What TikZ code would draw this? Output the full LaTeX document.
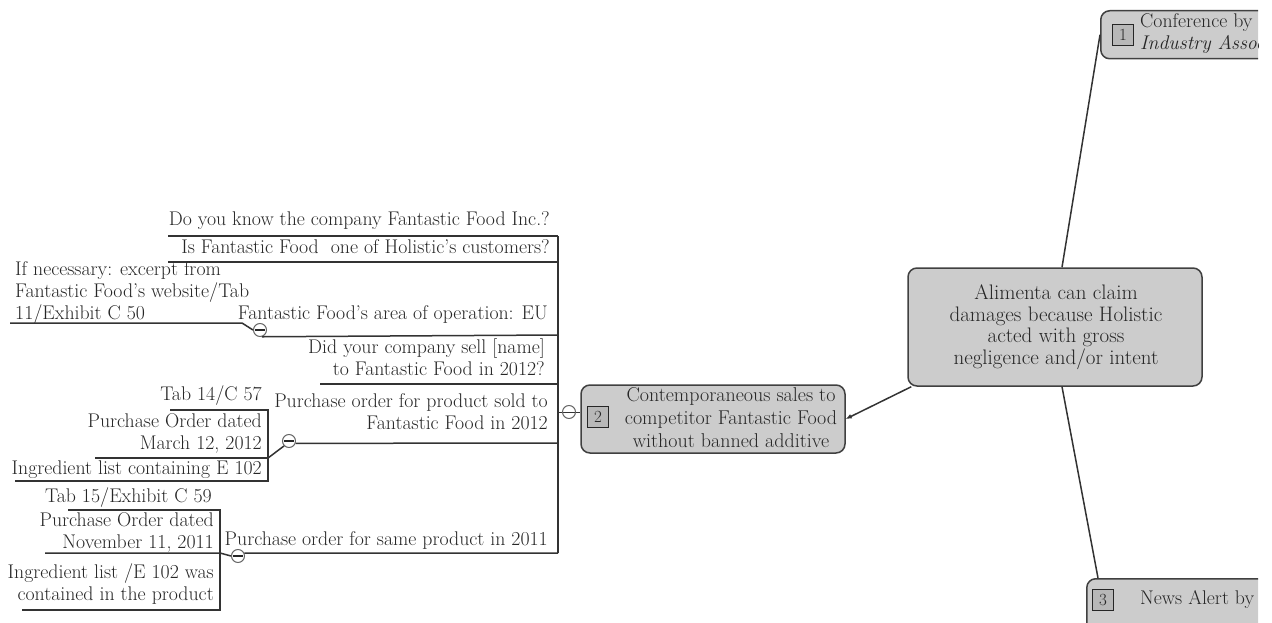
\documentclass[tikz,border=0pt]{standalone}
\usetikzlibrary{arrows.meta}
\begin{document}
\begin{tikzpicture}[x=1pt,y=-1pt,
  font=\fontsize{19.8}{22}\selectfont,
  line/.style={draw=black!80, line width=1.5pt},
  lbl/.style={inner sep=0pt, text=black!85, align=right},
  topic/.style={draw=black!75, line width=1.5pt, fill=black!20, rounded corners=9pt, inner sep=0pt},
  numbox/.style={draw=black!85, line width=1.5pt, fill=black!28, minimum size=21pt, inner sep=0pt,
    text=black!85, font=\fontsize{17}{17}\selectfont},
  tog/.style={circle, draw=black!60, line width=1pt, minimum size=13pt, inner sep=0pt},
  togminus/.style={tog, fill=white, path picture={\draw[line width=2.8pt,black!85]
    ([xshift=1.5pt]path picture bounding box.west) -- ([xshift=-1.5pt]path picture bounding box.east);}}
]
\useasboundingbox (0,0) rectangle (1272,623);
\clip (0,0) rectangle (1258,623);

% ---- main claim and its three supporting topics ----
\node[topic, minimum width=294pt, minimum height=118pt] (c) at (1055,327) {};
\node[lbl, align=center, font=\fontsize{21}{21.5}\selectfont] (ct) at (1056,327)
  {Alimenta can claim\\damages because Holistic\\acted with gross\\negligence and/or intent};

\node[topic, minimum width=220pt, minimum height=48pt, anchor=north west] (n1) at (1100,10) {};
\node[numbox] (k1) at (1123,35) {1};
\node[lbl, align=left, anchor=west] (n1t) at (1140,34) {Conference by\\\textit{Industry Assoc}};

\node[topic, minimum width=264pt, minimum height=68pt] (n2) at (713,419) {};
\node[numbox] (k2) at (598,417) {2};
\node[lbl, align=center, font=\fontsize{20}{23}\selectfont] (n2t) at (731,418)
  {Contemporaneous sales to\\competitor Fantastic Food\\without banned additive};

\node[topic, minimum width=220pt, minimum height=60pt, anchor=north west] (n3) at (1086,578) {};
\node[numbox] (k3) at (1103,600) {3};
\node[lbl, anchor=west] (n3t) at (1140,600) {News Alert by};

\draw[line] ([xshift=7pt]c.north) -- (n1.west);
\draw[line] ([xshift=7pt]c.south) -- ([xshift=12pt]n3.north west);
\draw[line, -{Latex[length=6pt,width=5pt]}] ([xshift=4pt]c.south west) -- (n2.east);

% ---- trunk of the questions under topic 2 ----
\coordinate (trTop) at (558,236);
\coordinate (j0)    at (558,412);
\coordinate (trBot) at (558,553);
\draw[line] (trTop) -- (trBot);
\draw[line, line width=1pt] (j0) -- (j0 -| n2.west);
\node[tog] (t0) at (569,412) {};

% question 1
\node[lbl, anchor=base east] (b1) at (550,225) {Do you know the company Fantastic Food Inc.?};
\coordinate (b1L) at (168,236);
\draw[line] (b1L) -- (trTop);

% question 2
\node[lbl, anchor=base east] (b2) at (550,253) {Is Fantastic Food\ \ one of Holistic's customers?};
\coordinate (b2L) at (168,262);
\coordinate (b2R) at (558,262);
\draw[line] (b2L) -- (b2R);

% question 3 with its evidence
\node[lbl, anchor=base east] (b3) at (548,319) {Fantastic Food's area of operation: EU};
\node[togminus] (t3) at (260,330) {};
\coordinate (j3) at (558,335);
\draw[line] (t3.-75) -- (j3);
\node[lbl, align=left, anchor=base west] (e3) at (15,319)
  {If necessary: excerpt from\\Fantastic Food's website/Tab\\11/Exhibit C 50};
\coordinate (e3L) at (10,323);
\draw[line] (e3L) -- (242,323) -- (t3.west);

% question 4
\node[lbl, anchor=base east] (b4) at (545,375) {Did your company sell [name]\\to Fantastic Food in 2012?};
\coordinate (b4L) at (320,384);
\coordinate (b4R) at (558,384);
\draw[line] (b4L) -- (b4R);

% question 5 with its documents
\node[lbl, anchor=base east] (b5) at (548,429) {Purchase order for product sold to\\Fantastic Food in 2012};
\node[togminus] (t5) at (289,441) {};
\coordinate (j5) at (558,443);
\draw[line] (t5.-20) -- (j5);

\node[lbl, anchor=base east] (s1) at (262,400) {Tab 14/C 57};
\node[lbl, anchor=base east] (s2) at (262,449) {Purchase Order dated\\March 12, 2012};
\node[lbl, anchor=base east] (s3) at (262,474) {Ingredient list containing E 102};
\coordinate (s1L) at (170,410); \coordinate (s1R) at (268,410);
\coordinate (s2L) at (95,458);  \coordinate (s2R) at (268,458);
\coordinate (s3L) at (15,481);  \coordinate (s3R) at (268,481);
\draw[line] (s1L) -- (s1R) -- (s3R) -- (s3L);
\draw[line] (s2L) -- (s2R);
\draw[line] (s2R) -- (t5.-135);

% question 6 with its documents
\node[lbl, anchor=base east] (b6) at (548,545) {Purchase order for same product in 2011};
\node[togminus] (t6) at (238,556) {};
\draw[line] (t6.25) -- (trBot);

\node[lbl, anchor=base east] (u1) at (212,502) {Tab 15/Exhibit C 59};
\node[lbl, anchor=base east] (u2) at (214,548) {Purchase Order dated\\November 11, 2011};
\node[lbl, anchor=base east] (u3) at (214,600) {Ingredient list /E 102 was\\contained in the product};
\coordinate (u1L) at (68,510); \coordinate (u1R) at (220,510);
\coordinate (u2L) at (45,553); \coordinate (u2R) at (220,553);
\coordinate (u3L) at (22,610); \coordinate (u3R) at (220,610);
\draw[line] (u1L) -- (u1R) -- (u3R) -- (u3L);
\draw[line] (u2L) -- (u2R) -- (t6.west);
\end{tikzpicture}
\end{document}
